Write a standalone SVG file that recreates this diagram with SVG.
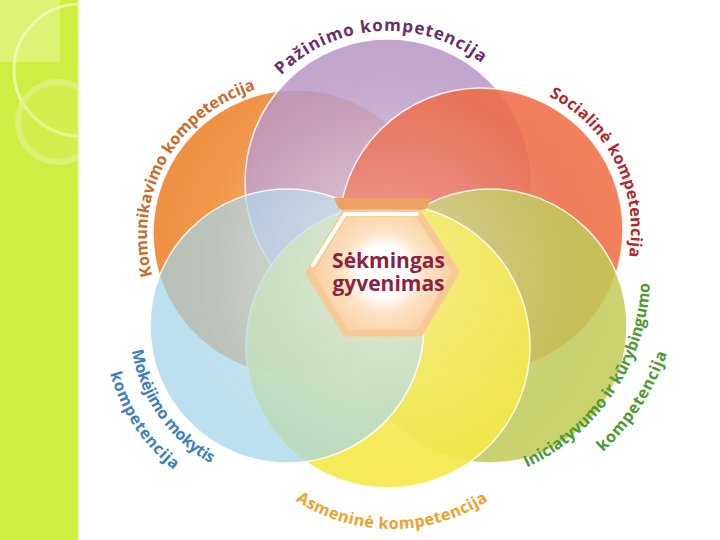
<svg xmlns="http://www.w3.org/2000/svg" width="720" height="540" viewBox="0 0 720 540">
<defs>
<style>
.lbl{font-family:"Open Sans","Liberation Sans",sans-serif;font-weight:700;font-size:16px}
.edge{stroke:#ffffff;stroke-width:1.5;stroke-opacity:.85}
.ctr{font-family:"Open Sans","Liberation Sans",sans-serif;font-weight:700;font-size:21px;fill:#8E1F3E}
</style>
<clipPath id="strip"><rect x="0" y="0" width="79" height="540"/></clipPath>
<radialGradient id="gOr" gradientUnits="userSpaceOnUse" cx="388" cy="270" r="260"><stop offset="0" stop-color="#F7B06A"/><stop offset="1" stop-color="#EE8D3E"/></radialGradient>
<radialGradient id="gPu" gradientUnits="userSpaceOnUse" cx="388" cy="270" r="260"><stop offset="0" stop-color="#C9A9D0"/><stop offset="1" stop-color="#B592C2"/></radialGradient>
<radialGradient id="gRe" gradientUnits="userSpaceOnUse" cx="388" cy="270" r="260"><stop offset="0" stop-color="#E4554A"/><stop offset="1" stop-color="#F07344"/></radialGradient>
<radialGradient id="gGr" gradientUnits="userSpaceOnUse" cx="388" cy="270" r="260"><stop offset="0" stop-color="#B5C25B"/><stop offset="1" stop-color="#C2CC55"/></radialGradient>
<radialGradient id="gYe" gradientUnits="userSpaceOnUse" cx="388" cy="270" r="260"><stop offset="0" stop-color="#F1E232"/><stop offset="1" stop-color="#F6EA52"/></radialGradient>
<radialGradient id="gBl" gradientUnits="userSpaceOnUse" cx="388" cy="270" r="260"><stop offset="0" stop-color="#B6DAE6"/><stop offset="1" stop-color="#9DD2EA"/></radialGradient>
<radialGradient id="glow" gradientUnits="userSpaceOnUse" cx="388" cy="272" r="190"><stop offset="0" stop-color="#ffffff" stop-opacity=".45"/><stop offset=".5" stop-color="#ffffff" stop-opacity=".22"/><stop offset="1" stop-color="#ffffff" stop-opacity="0"/></radialGradient>
<radialGradient id="hexFill" gradientUnits="userSpaceOnUse" cx="384" cy="272" r="85"><stop offset="0" stop-color="#ffffff"/><stop offset=".3" stop-color="#ffffff"/><stop offset=".48" stop-color="#FDE3C4"/><stop offset="1" stop-color="#F7C590"/></radialGradient>
<path id="p-paz" d="M281.2,75.2 A151,151 0 0 1 539,182"/>
<path id="p-kom" d="M152.2,275.6 A153,153 0 0 1 376.5,103.5"/>
<path id="p-soc" d="M549.1,96.3 A150,150 0 0 1 556,359.9"/>
<path id="p-ini1" d="M526.9,467.4 A212,212 0 0 0 637.2,202.5"/>
<path id="p-ini2" d="M603,452 A242,242 0 0 0 676.3,233"/>
<path id="p-mok1" d="M131.9,350.6 A157,157 0 0 0 365.5,462"/>
<path id="p-mok2" d="M110.2,373.4 A183,183 0 0 0 378.5,484.5"/>
<path id="p-asm" d="M295.6,500.4 A177,177 0 0 0 558.3,412.5"/>
</defs>

<rect x="0" y="0" width="720" height="540" fill="#ffffff"/>

<g id="side-strip">
<rect x="0" y="0" width="79" height="540" fill="#CFEE44"/>
<g clip-path="url(#strip)">
<rect x="0" y="0" width="60" height="62" fill="#E8F8A0" opacity=".55"/>
<circle cx="80" cy="70" r="66" fill="none" stroke="#EEF9B8" stroke-width="3" opacity=".85"/>
<circle cx="58" cy="122" r="40" fill="#D9F263" fill-opacity=".4" stroke="#E0F38A" stroke-width="6" opacity=".75"/>
</g>
<line x1="78.5" y1="0" x2="78.5" y2="540" stroke="#EAF8B0" stroke-width="1.5"/>
</g>

<g id="connectors"/>

<g id="komunikavimo">
<circle class="edge" cx="296" cy="233" r="143" fill="url(#gOr)"/>
<text class="lbl" fill="#C96A2C"><textPath href="#p-kom">Komunikavimo kompetencija</textPath></text>
</g>

<g id="pazinimo">
<circle class="edge" cx="388" cy="182" r="143" fill="url(#gPu)" fill-opacity=".85"/>
<text class="lbl" fill="#6A2C6E" style="font-size:17px;letter-spacing:1px"><textPath href="#p-paz">Pažinimo kompetencija</textPath></text>
</g>

<g id="sociraline">
<circle class="edge" cx="481" cy="230" r="142" fill="url(#gRe)" fill-opacity=".88"/>
<text class="lbl" fill="#B3262F" style="letter-spacing:.3px"><textPath href="#p-soc">Socialinė kompetencija</textPath></text>
</g>

<g id="iniciatyvumo">
<circle class="edge" cx="490" cy="326" r="137" fill="url(#gGr)" fill-opacity=".85"/>
<text class="lbl" fill="#4B9A34"><textPath href="#p-ini1">Iniciatyvumo ir kūrybingumo</textPath><textPath href="#p-ini2" style="letter-spacing:.8px">kompetencija</textPath></text>
</g>

<g id="asmenine">
<circle class="edge" cx="388" cy="346" r="142" fill="url(#gYe)" fill-opacity=".92"/>
<text class="lbl" fill="#EFA127" style="letter-spacing:.5px"><textPath href="#p-asm">Asmeninė kompetencija</textPath></text>
</g>

<g id="mokejimo">
<circle class="edge" cx="287" cy="326" r="137" fill="url(#gBl)" fill-opacity=".7"/>
<text class="lbl" fill="#3C7FC0"><textPath href="#p-mok1" style="letter-spacing:-.4px">Mokėjimo mokytis</textPath><textPath href="#p-mok2" style="letter-spacing:.7px">kompetencija</textPath></text>
</g>

<circle id="center-glow" cx="388" cy="272" r="190" fill="url(#glow)"/>

<g id="sekmingas-gyvenimas">
<path d="M334,198 L432,198 L427,207 Q425,210 421,210 L344,210 Q340,210 338,207 Z" fill="#EBA264"/>
<path d="M345,213 L418,213 L456,272 L420,333 L346,333 L309,273 Z" fill="url(#hexFill)" stroke="#F7C994" stroke-width="7" stroke-linejoin="round"/>
<polyline points="313,265 345,214 417,214" fill="none" stroke="#ffffff" stroke-width="4" stroke-linecap="round" stroke-linejoin="round"/>
<text class="ctr" text-anchor="middle"><tspan x="388.5" y="268">Sėkmingas</tspan><tspan x="388.5" y="291">gyvenimas</tspan></text>
</g>
</svg>
